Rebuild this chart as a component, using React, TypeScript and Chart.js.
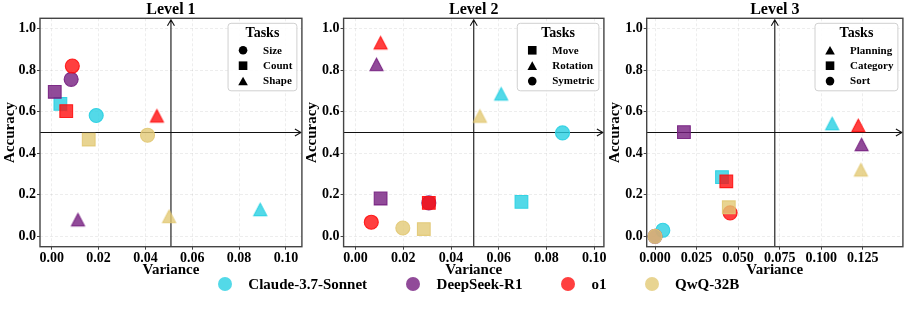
import React, { useEffect, useRef } from 'react';
import { Chart, registerables } from 'chart.js';

Chart.register(...registerables);

// ---------- data ----------
const MODELS = ['Claude-3.7-Sonnet', 'DeepSeek-R1', 'o1', 'QwQ-32B'];
const MODEL_RGB = ['40,208,226', '118,30,128', '255,15,15', '226,201,118'];

const LEVEL_TITLES = ['Level 1', 'Level 2', 'Level 3'];

const L1_TASKS = ['Size', 'Count', 'Shape'];
const L1_SHAPES = ['circle', 'rect', 'triangle'];
// rows: Claude, DeepSeek, o1, QwQ ; columns follow L1_TASKS
const L1_VARIANCE = [
  [0.0190, 0.0037, 0.0890],
  [0.0083, 0.0013, 0.0112],
  [0.0088, 0.0062, 0.0449],
  [0.0409, 0.0158, 0.0501],
];
const L1_ACCURACY = [
  [0.582, 0.638, 0.129],
  [0.756, 0.696, 0.080],
  [0.820, 0.603, 0.580],
  [0.487, 0.466, 0.096],
];

const L2_TASKS = ['Move', 'Rotation', 'Symetric'];
const L2_SHAPES = ['rect', 'triangle', 'circle'];
const L2_VARIANCE = [
  [0.0695, 0.0610, 0.0867],
  [0.0105, 0.0088, 0.0307],
  [0.0307, 0.0105, 0.0066],
  [0.0286, 0.0521, 0.0198],
];
const L2_ACCURACY = [
  [0.166, 0.686, 0.498],
  [0.182, 0.828, 0.161],
  [0.161, 0.932, 0.068],
  [0.035, 0.579, 0.040],
];

const L3_TASKS = ['Planning', 'Category', 'Sort'];
const L3_SHAPES = ['triangle', 'rect', 'circle'];
const L3_VARIANCE = [
  [0.1066, 0.0403, 0.0047],
  [0.1243, 0.0174, 0.0000],
  [0.1223, 0.0429, 0.0452],
  [0.1239, 0.0444, 0.0000],
];
const L3_ACCURACY = [
  [0.543, 0.285, 0.029],
  [0.442, 0.502, 0.000],
  [0.534, 0.265, 0.113],
  [0.320, 0.140, 0.000],
];

const X_TICKS_12 = [0, 0.02, 0.04, 0.06, 0.08, 0.1];
const X_TICKS_3 = [0, 0.025, 0.05, 0.075, 0.1, 0.125];
const Y_TICKS = [0, 0.2, 0.4, 0.6, 0.8, 1.0];
const X_MIN = -0.005;
const Y_MIN = -0.05;
const Y_MAX = 1.05;

const LEVELS = [
  { tasks: L1_TASKS, shapes: L1_SHAPES, variance: L1_VARIANCE, accuracy: L1_ACCURACY, xticks: X_TICKS_12, dec: 2 },
  { tasks: L2_TASKS, shapes: L2_SHAPES, variance: L2_VARIANCE, accuracy: L2_ACCURACY, xticks: X_TICKS_12, dec: 2 },
  { tasks: L3_TASKS, shapes: L3_SHAPES, variance: L3_VARIANCE, accuracy: L3_ACCURACY, xticks: X_TICKS_3, dec: 3 },
];

// ---------- layout ----------
const CANVAS_H = 280;
const PANEL_GEOM = [
  { left: 0, width: 312, yAxisW: 40, areaRight: 302.7 },
  { left: 301.7, width: 312, yAxisW: 41.6, areaRight: 606.7 },
  { left: 605, width: 308, yAxisW: 41.7, areaRight: 909 },
];
const X_AXIS_H = 33.3;
const FONT = '"Liberation Serif", "Times New Roman", serif';
const RADIUS: Record<string, number> = { circle: 7, rect: 9, triangle: 8 };
const FILL_A = 0.8;
const EDGE_A = 0.9;

// matplotlib-like '^' marker (bbox centred) as an image point style
function makeTriangle(rgb: string): HTMLCanvasElement {
  const c = document.createElement('canvas');
  c.width = 17;
  c.height = 17;
  const ctx = c.getContext('2d')!;
  ctx.beginPath();
  ctx.moveTo(8.5, 2.2);
  ctx.lineTo(15, 14.6);
  ctx.lineTo(2, 14.6);
  ctx.closePath();
  ctx.fillStyle = `rgba(${rgb},${FILL_A})`;
  ctx.fill();
  ctx.strokeStyle = `rgba(${rgb},${EDGE_A})`;
  ctx.lineWidth = 1.1;
  ctx.stroke();
  return c;
}

function drawMarker(ctx: CanvasRenderingContext2D, shape: string, x: number, y: number) {
  ctx.beginPath();
  if (shape === 'circle') {
    ctx.arc(x, y, 4.3, 0, Math.PI * 2);
  } else if (shape === 'rect') {
    ctx.rect(x - 4.3, y - 4.3, 8.6, 8.6);
  } else {
    ctx.moveTo(x, y - 4.4);
    ctx.lineTo(x + 4.8, y + 4.2);
    ctx.lineTo(x - 4.8, y + 4.2);
    ctx.closePath();
  }
  ctx.fill();
}

function Panel({ idx }: { idx: number }) {
  const ref = useRef<HTMLCanvasElement>(null);
  const g = PANEL_GEOM[idx];
  useEffect(() => {
    const lv = LEVELS[idx];
    const allX = lv.variance.flat();
    const xMax = Math.max(...allX) * 1.2;

    const datasets = MODELS.map((m, mi) => {
      const tri = makeTriangle(MODEL_RGB[mi]);
      return {
        label: m,
        order: MODELS.length - mi, // later models drawn on top
        data: lv.tasks.map((_, ti) => ({ x: lv.variance[mi][ti], y: lv.accuracy[mi][ti] })),
        pointStyle: lv.shapes.map((s) => (s === 'triangle' ? tri : s)) as any,
        pointRadius: lv.shapes.map((s) => RADIUS[s]),
        backgroundColor: `rgba(${MODEL_RGB[mi]},${FILL_A})`,
        borderColor: `rgba(${MODEL_RGB[mi]},${EDGE_A})`,
        borderWidth: 1.1,
        showLine: false,
      };
    });

    const decor = {
      id: 'decor',
      beforeDatasetsDraw(chart: any) {
        const { ctx, chartArea: a, scales } = chart;
        const yMid = scales.y.getPixelForValue((Y_MIN + Y_MAX) / 2);
        const xMid = scales.x.getPixelForValue((X_MIN + xMax) / 2);
        ctx.save();
        ctx.strokeStyle = '#111';
        ctx.lineWidth = 1.1;
        const hx2 = a.right - 1;
        ctx.beginPath();
        ctx.moveTo(a.left, yMid);
        ctx.lineTo(hx2, yMid);
        ctx.moveTo(hx2 - 6, yMid - 3.5);
        ctx.lineTo(hx2, yMid);
        ctx.lineTo(hx2 - 6, yMid + 3.5);
        ctx.stroke();
        const vy2 = a.top + 1.5;
        ctx.beginPath();
        ctx.moveTo(xMid, a.bottom);
        ctx.lineTo(xMid, vy2);
        ctx.moveTo(xMid - 3.5, vy2 + 6);
        ctx.lineTo(xMid, vy2);
        ctx.lineTo(xMid + 3.5, vy2 + 6);
        ctx.stroke();
        ctx.restore();
      },
      afterDraw(chart: any) {
        const { ctx, chartArea: a } = chart;
        ctx.save();
        ctx.strokeStyle = '#444';
        ctx.lineWidth = 1.4;
        ctx.strokeRect(a.left, a.top, a.right - a.left, a.bottom - a.top);
        ctx.font = `bold 11px ${FONT}`;
        const maxW = Math.max(...lv.tasks.map((t) => ctx.measureText(t).width));
        const bw = 35 + maxW + 4.5;
        const bh = 67.5;
        const bx = a.right - 5 - bw;
        const by = a.top + 5;
        ctx.beginPath();
        (ctx as any).roundRect(bx, by, bw, bh, 3);
        ctx.fillStyle = 'rgba(255,255,255,0.85)';
        ctx.fill();
        ctx.strokeStyle = '#d0d0d0';
        ctx.lineWidth = 1;
        ctx.stroke();
        ctx.fillStyle = '#000';
        ctx.textBaseline = 'middle';
        ctx.textAlign = 'center';
        ctx.font = `bold 14px ${FONT}`;
        ctx.fillText('Tasks', bx + bw / 2, by + 10.5);
        ctx.font = `bold 11px ${FONT}`;
        ctx.textAlign = 'left';
        lv.tasks.forEach((t, i) => {
          const ry = by + 27 + i * 15.4;
          drawMarker(ctx, lv.shapes[i], bx + 15, ry);
          ctx.fillText(t, bx + 35, ry + 0.5);
        });
        ctx.restore();
      },
    };

    const tickFont = { family: FONT, size: 14, weight: 'bold' as const };
    const titleFont = { family: FONT, size: 15, weight: 'bold' as const };

    const chart = new Chart(ref.current!, {
      type: 'scatter',
      data: { datasets },
      plugins: [decor],
      options: {
        responsive: false,
        animation: false,
        events: [],
        layout: { padding: { left: 0, right: g.width - (g.areaRight - g.left), top: 0, bottom: 0 } },
        plugins: {
          legend: { display: false },
          tooltip: { enabled: false },
          title: {
            display: true,
            text: LEVEL_TITLES[idx],
            fullSize: false,
            color: '#000',
            padding: { top: 1.5, bottom: 0 },
            font: { family: FONT, size: 16, weight: 'bold', lineHeight: 1.05 },
          },
        },
        scales: {
          x: {
            type: 'linear',
            min: X_MIN,
            max: xMax,
            afterBuildTicks: (s: any) => {
              s.ticks = lv.xticks.map((v) => ({ value: v }));
            },
            afterFit: (s: any) => {
              s.height = X_AXIS_H;
            },
            ticks: {
              autoSkip: false,
              maxRotation: 0,
              padding: 0,
              color: '#000',
              font: tickFont,
              callback: (v: any) => Number(v).toFixed(lv.dec),
            },
            grid: { color: 'rgba(0,0,0,0.09)', lineWidth: 0.8, tickColor: '#444', tickLength: 3, tickWidth: 1 },
            border: { display: false, dash: [3, 2] },
            title: { display: true, text: 'Variance', color: '#000', font: titleFont, padding: { top: 1, bottom: 1 } },
          },
          y: {
            type: 'linear',
            min: Y_MIN,
            max: Y_MAX,
            afterBuildTicks: (s: any) => {
              s.ticks = Y_TICKS.map((v) => ({ value: v }));
            },
            afterFit: (s: any) => {
              s.width = g.yAxisW;
            },
            ticks: {
              autoSkip: false,
              padding: 1,
              color: '#000',
              font: tickFont,
              callback: (v: any) => Number(v).toFixed(1),
            },
            grid: { color: 'rgba(0,0,0,0.09)', lineWidth: 0.8, tickColor: '#444', tickLength: 3, tickWidth: 1 },
            border: { display: false, dash: [3, 2] },
            title: { display: true, text: 'Accuracy', color: '#000', font: titleFont, padding: { top: 1, bottom: 1 } },
          },
        },
      } as any,
    });
    return () => chart.destroy();
  }, []);
  return (
    <canvas
      ref={ref}
      width={g.width}
      height={CANVAS_H}
      style={{ position: 'absolute', left: g.left, top: 0, width: g.width, height: CANVAS_H }}
    />
  );
}

const LEGEND_X = [225, 413.3, 568.3, 651.7];

export default function App() {
  return (
    <div style={{ position: 'fixed', left: 0, top: 0, width: 913, height: 311, background: '#fff', overflow: 'hidden' }}>
      <Panel idx={0} />
      <Panel idx={1} />
      <Panel idx={2} />
      {MODELS.map((m, i) => (
        <div key={m}>
          <div
            style={{
              position: 'absolute',
              left: LEGEND_X[i] - 7,
              top: 284 - 7,
              width: 14,
              height: 14,
              borderRadius: '50%',
              background: `rgba(${MODEL_RGB[i]},0.8)`,
            }}
          />
          <div
            style={{
              position: 'absolute',
              left: LEGEND_X[i] + 23.3,
              top: 284 - 10,
              height: 20,
              lineHeight: '20px',
              fontFamily: FONT,
              fontWeight: 'bold',
              fontSize: 15,
              color: '#000',
              whiteSpace: 'nowrap',
            }}
          >
            {m}
          </div>
        </div>
      ))}
    </div>
  );
}
